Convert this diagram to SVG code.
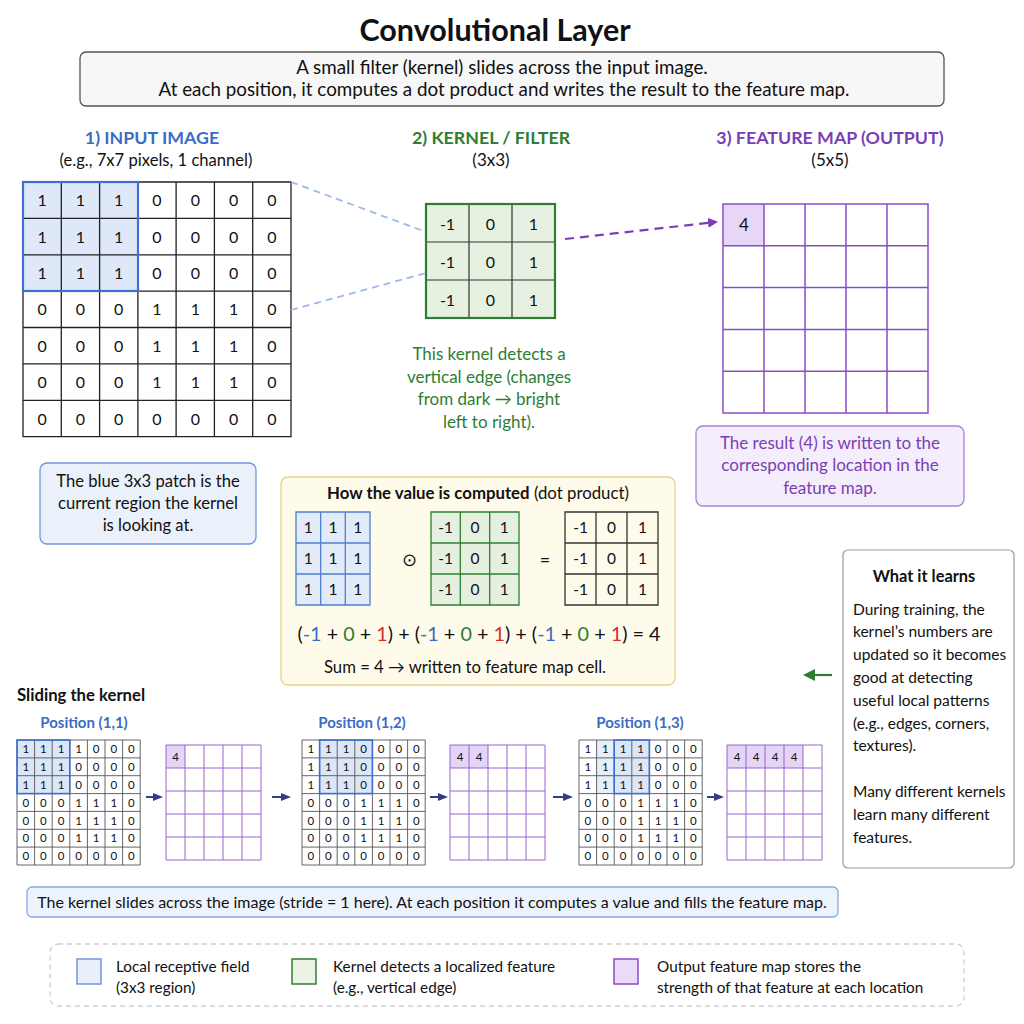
<svg xmlns="http://www.w3.org/2000/svg" width="1024" height="1024" viewBox="0 0 1024 1024">
<defs>
<style>
text{font-family:Lato,"Open Sans","Liberation Sans",sans-serif;fill:#111}
.c{text-anchor:middle}
.h1{font-size:30.5px;font-weight:bold}
.sub{font-size:18.8px}
.hb{font-size:17.8px;font-weight:bold}
.n{font-size:16px}
.s{font-size:11.5px}
text.blue,tspan.blue{fill:#3b6cc7}
text.green,tspan.green{fill:#2e7d32}
text.purple{fill:#7a3fb5}
tspan.red{fill:#d32f2f}
.grid{fill:none;stroke:#222;stroke-width:1.3}
.sgrid{fill:none;stroke:#555;stroke-width:0.9}
.pgrid{fill:none;stroke:#8a4cc9;stroke-width:1.5}
.spgrid{fill:none;stroke:#9a63d2;stroke-width:1}
</style>
<marker id="ap" markerWidth="10" markerHeight="10" refX="8" refY="5" orient="auto" markerUnits="userSpaceOnUse"><path d="M0,0 L10,5 L0,10 z" fill="#7a3fb5"/></marker>
<marker id="an" markerWidth="10" markerHeight="10" refX="8" refY="5" orient="auto" markerUnits="userSpaceOnUse"><path d="M0,1 L10,5 L0,9 z" fill="#3a3a8a"/></marker>
<marker id="ag" markerWidth="12" markerHeight="12" refX="9" refY="6" orient="auto" markerUnits="userSpaceOnUse"><path d="M0,0 L12,6 L0,12 z" fill="#2e7d32"/></marker>
</defs>
<rect width="1024" height="1024" fill="#ffffff"/>

<g id="title">
<text class="c h1" x="495" y="41">Convolutional Layer</text>
</g>
<g id="intro">
<rect x="80" y="52" width="864" height="54" rx="6" fill="#f7f7f7" stroke="#555" stroke-width="1.3"/>
<text class="c sub" x="502" y="74">A small filter (kernel) slides across the input image.</text>
<text class="c sub" x="504" y="96">At each position, it computes a dot product and writes the result to the feature map.</text>
</g>

<g id="input-image">
<text class="c hb blue" x="152" y="144">1) INPUT IMAGE</text>
<text class="c" x="156" y="166" style="font-size:16.6px">(e.g., 7x7 pixels, 1 channel)</text>
<rect x="23" y="182" width="115" height="109" fill="#dfe8f8"/>
<path class="grid" d="M23,182H291V436.7H23Z M61.3,182V436.7 M99.6,182V436.7 M137.9,182V436.7 M176.1,182V436.7 M214.4,182V436.7 M252.7,182V436.7 M23,218.4H291 M23,254.8H291 M23,291.1H291 M23,327.5H291 M23,363.9H291 M23,400.3H291"/>
<rect x="23" y="182" width="115" height="109" fill="none" stroke="#3f6fd0" stroke-width="2.2"/>
<g class="n">
<text class="c" x="42.2 80.4 118.7 157 195.3 233.6 271.9" y="206">1110000</text>
<text class="c" x="42.2 80.4 118.7 157 195.3 233.6 271.9" y="242.5">1110000</text>
<text class="c" x="42.2 80.4 118.7 157 195.3 233.6 271.9" y="279">1110000</text>
<text class="c" x="42.2 80.4 118.7 157 195.3 233.6 271.9" y="315.4">0001110</text>
<text class="c" x="42.2 80.4 118.7 157 195.3 233.6 271.9" y="351.8">0001110</text>
<text class="c" x="42.2 80.4 118.7 157 195.3 233.6 271.9" y="388.2">0001110</text>
<text class="c" x="42.2 80.4 118.7 157 195.3 233.6 271.9" y="424.6">0000000</text>
</g>
</g>

<g id="kernel">
<text class="c hb green" x="491" y="144">2) KERNEL / FILTER</text>
<text class="c" x="491" y="166" style="font-size:17px">(3x3)</text>
<rect x="426" y="204" width="129" height="114" fill="#e6f1e1"/>
<path fill="none" stroke="#333" stroke-width="1.2" d="M469,204V318 M512,204V318 M426,242H555 M426,280H555"/>
<rect x="426" y="204" width="129" height="114" fill="none" stroke="#2e7d32" stroke-width="2.2"/>
<g class="n">
<text class="c" x="447.5" y="230">-1</text><text class="c" x="490.5" y="230">0</text><text class="c" x="533.5" y="230">1</text>
<text class="c" x="447.5" y="268">-1</text><text class="c" x="490.5" y="268">0</text><text class="c" x="533.5" y="268">1</text>
<text class="c" x="447.5" y="306">-1</text><text class="c" x="490.5" y="306">0</text><text class="c" x="533.5" y="306">1</text>
</g>
<g style="font-size:17px">
<text class="c green" x="489" y="360">This kernel detects a</text>
<text class="c green" x="489" y="383">vertical edge (changes</text>
<text class="c green" x="489" y="405">from dark → bright</text>
<text class="c green" x="489" y="428">left to right).</text>
</g>
</g>

<g id="feature-map">
<text class="c hb purple" x="830" y="144">3) FEATURE MAP (OUTPUT)</text>
<text class="c" x="830" y="166" style="font-size:17px">(5x5)</text>
<rect x="723" y="204" width="41" height="41.8" fill="#e6d7f6"/>
<path class="pgrid" d="M723,204H928V413H723Z M764,204V413 M805,204V413 M846,204V413 M887,204V413 M723,245.8H928 M723,287.6H928 M723,329.4H928 M723,371.2H928"/>
<text class="c" x="744" y="231" style="font-size:17px">4</text>
</g>

<g id="result-note">
<rect x="696" y="426" width="268" height="80" rx="7" fill="#f4edfb" stroke="#a982d6" stroke-width="1.3"/>
<g style="font-size:17px">
<text class="c purple" x="830" y="449">The result (4) is written to the</text>
<text class="c purple" x="830" y="471">corresponding location in the</text>
<text class="c purple" x="830" y="494">feature map.</text>
</g>
</g>

<g id="patch-note">
<rect x="40" y="463" width="216" height="81" rx="7" fill="#ebf1fb" stroke="#6f96d8" stroke-width="1.3"/>
<g style="font-size:16.6px">
<text class="c" x="148" y="487">The blue 3x3 patch is the</text>
<text class="c" x="148" y="509">current region the kernel</text>
<text class="c" x="148" y="531">is looking at.</text>
</g>
</g>

<g id="dot-product">
<rect x="281" y="477" width="394" height="208" rx="7" fill="#fffbeb" stroke="#e9d38b" stroke-width="1.3"/>
<text class="c" x="478" y="499" style="font-size:16.8px"><tspan font-weight="bold">How the value is computed</tspan> (dot product)</text>
<rect x="296" y="512" width="74" height="93" fill="#e2ebfa"/>
<path fill="none" stroke="#4d7fd0" stroke-width="1.3" d="M296,512H370V605H296Z M320.7,512V605 M345.3,512V605 M296,543H370 M296,574H370"/>
<text class="c" x="409" y="566" style="font-size:18px">⊙</text>
<rect x="431" y="512" width="88" height="93" fill="#e5f0e1"/>
<path fill="none" stroke="#2e7d32" stroke-width="1.3" d="M431,512H519V605H431Z M460.3,512V605 M489.7,512V605 M431,543H519 M431,574H519"/>
<text class="c" x="545" y="566" style="font-size:18px">=</text>
<path fill="none" stroke="#333" stroke-width="1.3" d="M565,512H658V605H565Z M596,512V605 M627,512V605 M565,543H658 M565,574H658"/>
<g style="font-size:15.5px">
<text class="c" x="308.3 333 357.7" y="533">111</text>
<text class="c" x="308.3 333 357.7" y="564">111</text>
<text class="c" x="308.3 333 357.7" y="595">111</text>
<text class="c" x="445.7" y="533">-1</text><text class="c" x="475" y="533">0</text><text class="c" x="504.3" y="533">1</text>
<text class="c" x="445.7" y="564">-1</text><text class="c" x="475" y="564">0</text><text class="c" x="504.3" y="564">1</text>
<text class="c" x="445.7" y="595">-1</text><text class="c" x="475" y="595">0</text><text class="c" x="504.3" y="595">1</text>
<text class="c" x="580.5" y="533">-1</text><text class="c" x="611.5" y="533">0</text><text class="c" x="642.5" y="533">1</text>
<text class="c" x="580.5" y="564">-1</text><text class="c" x="611.5" y="564">0</text><text class="c" x="642.5" y="564">1</text>
<text class="c" x="580.5" y="595">-1</text><text class="c" x="611.5" y="595">0</text><text class="c" x="642.5" y="595">1</text>
</g>
<text class="c" x="479" y="641" style="font-size:19.8px">(<tspan class="blue">-1</tspan> + <tspan class="green">0</tspan> + <tspan class="red">1</tspan>) + (<tspan class="blue">-1</tspan> + <tspan class="green">0</tspan> + <tspan class="red">1</tspan>) + (<tspan class="blue">-1</tspan> + <tspan class="green">0</tspan> + <tspan class="red">1</tspan>) = 4</text>
<text class="c" x="465" y="673" style="font-size:16.7px">Sum = 4 → written to feature map cell.</text>
</g>

<g id="learns">
<rect x="843" y="550" width="171" height="318" rx="5" fill="#ffffff" stroke="#9a9a9a" stroke-width="1.2"/>
<text class="c" x="924" y="582" style="font-size:16.4px;font-weight:bold">What it learns</text>
<g style="font-size:15.5px">
<text x="853" y="615">During training, the</text>
<text x="853" y="637">kernel’s numbers are</text>
<text x="853" y="660">updated so it becomes</text>
<text x="853" y="683">good at detecting</text>
<text x="853" y="706">useful local patterns</text>
<text x="853" y="729">(e.g., edges, corners,</text>
<text x="853" y="751">textures).</text>
<text x="853" y="797">Many different kernels</text>
<text x="853" y="820">learn many different</text>
<text x="853" y="843">features.</text>
</g>
</g>

<g id="sliding">
<text x="17" y="701" style="font-size:16.7px;font-weight:bold">Sliding the kernel</text>
<g id="pos11">
<text class="c blue" x="84" y="728" style="font-size:15px;font-weight:bold">Position (1,1)</text>
<rect x="17" y="740" width="52.8" height="53.6" fill="#dbe6f8"/>
<path class="sgrid" d="M17,740H140.2V865H17Z M34.6,740V865 M52.2,740V865 M69.8,740V865 M87.4,740V865 M105,740V865 M122.6,740V865 M17,757.9H140.2 M17,775.7H140.2 M17,793.6H140.2 M17,811.4H140.2 M17,829.3H140.2 M17,847.1H140.2"/>
<rect x="17" y="740" width="52.8" height="53.6" fill="none" stroke="#3f6fd0" stroke-width="1.6"/>
<g class="s">
<text class="c" x="25.8 43.4 61 78.6 96.2 113.8 131.4" y="753">1111000</text>
<text class="c" x="25.8 43.4 61 78.6 96.2 113.8 131.4" y="771">1110000</text>
<text class="c" x="25.8 43.4 61 78.6 96.2 113.8 131.4" y="789">1110000</text>
<text class="c" x="25.8 43.4 61 78.6 96.2 113.8 131.4" y="806.5">0001110</text>
<text class="c" x="25.8 43.4 61 78.6 96.2 113.8 131.4" y="824.5">0001110</text>
<text class="c" x="25.8 43.4 61 78.6 96.2 113.8 131.4" y="842">0001110</text>
<text class="c" x="25.8 43.4 61 78.6 96.2 113.8 131.4" y="860">0000000</text>
</g>
<rect x="166" y="745" width="19" height="23" fill="#e4d4f5"/>
<path class="spgrid" d="M166,745H261V860H166Z M185,745V860 M204,745V860 M223,745V860 M242,745V860 M166,768H261 M166,791H261 M166,814H261 M166,837H261"/>
<text class="c s" x="175.5" y="761">4</text>
</g>
<g id="pos12">
<text class="c blue" x="362" y="728" style="font-size:15px;font-weight:bold">Position (1,2)</text>
<rect x="319.6" y="740" width="52.8" height="53.6" fill="#dbe6f8"/>
<path class="sgrid" d="M302,740H425.2V865H302Z M319.6,740V865 M337.2,740V865 M354.8,740V865 M372.4,740V865 M390,740V865 M407.6,740V865 M302,757.9H425.2 M302,775.7H425.2 M302,793.6H425.2 M302,811.4H425.2 M302,829.3H425.2 M302,847.1H425.2"/>
<rect x="319.6" y="740" width="52.8" height="53.6" fill="none" stroke="#3f6fd0" stroke-width="1.6"/>
<g class="s">
<text class="c" x="310.8 328.4 346 363.6 381.2 398.8 416.4" y="753">1110000</text>
<text class="c" x="310.8 328.4 346 363.6 381.2 398.8 416.4" y="771">1110000</text>
<text class="c" x="310.8 328.4 346 363.6 381.2 398.8 416.4" y="789">1110000</text>
<text class="c" x="310.8 328.4 346 363.6 381.2 398.8 416.4" y="806.5">0001110</text>
<text class="c" x="310.8 328.4 346 363.6 381.2 398.8 416.4" y="824.5">0001110</text>
<text class="c" x="310.8 328.4 346 363.6 381.2 398.8 416.4" y="842">0001110</text>
<text class="c" x="310.8 328.4 346 363.6 381.2 398.8 416.4" y="860">0000000</text>
</g>
<rect x="450" y="745" width="38" height="23" fill="#e4d4f5"/>
<path class="spgrid" d="M450,745H545V860H450Z M469,745V860 M488,745V860 M507,745V860 M526,745V860 M450,768H545 M450,791H545 M450,814H545 M450,837H545"/>
<text class="c s" x="460 479" y="761">44</text>
</g>
<g id="pos13">
<text class="c blue" x="640" y="728" style="font-size:15px;font-weight:bold">Position (1,3)</text>
<rect x="596.6" y="740" width="52.8" height="53.6" fill="#e6eefa"/>
<rect x="614.2" y="740" width="35.2" height="53.6" fill="#dbe6f8"/>
<path class="sgrid" d="M579,740H702.2V865H579Z M596.6,740V865 M614.2,740V865 M631.8,740V865 M649.4,740V865 M667,740V865 M684.6,740V865 M579,757.9H702.2 M579,775.7H702.2 M579,793.6H702.2 M579,811.4H702.2 M579,829.3H702.2 M579,847.1H702.2"/>
<rect x="614.2" y="740" width="35.2" height="53.6" fill="none" stroke="#3f6fd0" stroke-width="1.6"/>
<g class="s">
<text class="c" x="587.8 605.4 623 640.6 658.2 675.8 693.4" y="753">1111000</text>
<text class="c" x="587.8 605.4 623 640.6 658.2 675.8 693.4" y="771">1111000</text>
<text class="c" x="587.8 605.4 623 640.6 658.2 675.8 693.4" y="789">1111000</text>
<text class="c" x="587.8 605.4 623 640.6 658.2 675.8 693.4" y="806.5">0001110</text>
<text class="c" x="587.8 605.4 623 640.6 658.2 675.8 693.4" y="824.5">0001110</text>
<text class="c" x="587.8 605.4 623 640.6 658.2 675.8 693.4" y="842">0001110</text>
<text class="c" x="587.8 605.4 623 640.6 658.2 675.8 693.4" y="860">0000000</text>
</g>
<rect x="727" y="745" width="76" height="23" fill="#e4d4f5"/>
<path class="spgrid" d="M727,745H822V860H727Z M746,745V860 M765,745V860 M784,745V860 M803,745V860 M727,768H822 M727,791H822 M727,814H822 M727,837H822"/>
<text class="c s" x="737 756 775 794" y="761">4444</text>
</g>
</g>

<g id="connectors">
<line x1="291" y1="182" x2="426" y2="232" stroke="#9db9ea" stroke-width="1.8" stroke-dasharray="7,5"/>
<line x1="291" y1="310" x2="426" y2="273" stroke="#9db9ea" stroke-width="1.8" stroke-dasharray="7,5"/>
<line x1="565" y1="239" x2="716" y2="222" stroke="#7a3fb5" stroke-width="2.2" stroke-dasharray="9,6" marker-end="url(#ap)"/>
<line x1="146" y1="797" x2="161" y2="797" stroke="#3a3a8a" stroke-width="2" marker-end="url(#an)"/>
<line x1="272" y1="797" x2="289" y2="797" stroke="#3a3a8a" stroke-width="2" marker-end="url(#an)"/>
<line x1="430" y1="797" x2="446" y2="797" stroke="#3a3a8a" stroke-width="2" marker-end="url(#an)"/>
<line x1="553" y1="797" x2="571" y2="797" stroke="#3a3a8a" stroke-width="2" marker-end="url(#an)"/>
<line x1="707" y1="797" x2="722" y2="797" stroke="#3a3a8a" stroke-width="2" marker-end="url(#an)"/>
<line x1="832" y1="675" x2="806" y2="675" stroke="#2e7d32" stroke-width="2.2" marker-end="url(#ag)"/>
</g>

<g id="stride-note">
<rect x="27" y="887" width="811" height="30" rx="5" fill="#edf3fc" stroke="#8aa9e0" stroke-width="1.3"/>
<text class="c" x="432" y="908" style="font-size:16px">The kernel slides across the image (stride = 1 here). At each position it computes a value and fills the feature map.</text>
</g>

<g id="legend">
<rect x="50" y="944" width="914" height="62" rx="8" fill="#ffffff" stroke="#cfcfcf" stroke-width="1.3" stroke-dasharray="5,4"/>
<rect x="77" y="959" width="24" height="25" fill="#eaf0fb" stroke="#6f96d8" stroke-width="1.5"/>
<rect x="292" y="959" width="24" height="25" fill="#eaf3e6" stroke="#2e7d32" stroke-width="1.5"/>
<rect x="614" y="959" width="24" height="25" fill="#eadcf8" stroke="#8a4cc9" stroke-width="1.5"/>
<g style="font-size:15.3px">
<text x="116" y="972">Local receptive field</text>
<text x="116" y="993">(3x3 region)</text>
<text x="333" y="972">Kernel detects a localized feature</text>
<text x="333" y="993">(e.g., vertical edge)</text>
<text x="657" y="972">Output feature map stores the</text>
<text x="657" y="993">strength of that feature at each location</text>
</g>
</g>
</svg>
